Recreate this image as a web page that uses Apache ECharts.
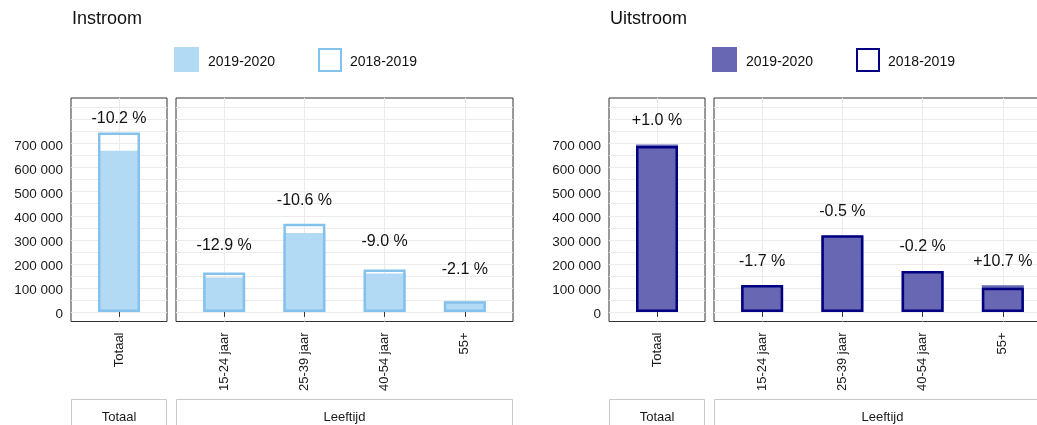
<!DOCTYPE html>
<html>
<head>
<meta charset="utf-8">
<script src="https://cdn.jsdelivr.net/npm/echarts@6/dist/echarts.min.js"></script>
<style>
html, body { margin: 0; padding: 0; background: #fff; }
#main { width: 1037px; height: 425px; }
</style>
</head>
<body>
<div id="main"></div>
<script>
// categorieën
var totaalCats = ['Totaal'];
var leeftijdCats = ['15-24 jaar', '25-39 jaar', '40-54 jaar', '55+'];

// instroom
var inTotaal2020 = [670000];
var inTotaal2019 = [746000];
var inTotaalPct = ['-10.2 %'];
var inLeeftijd2020 = [142900, 328000, 160000, 43000];
var inLeeftijd2019 = [164000, 367000, 176000, 44000];
var inLeeftijdPct = ['-12.9 %', '-10.6 %', '-9.0 %', '-2.1 %'];

// uitstroom
var uitTotaal2020 = [697000];
var uitTotaal2019 = [690000];
var uitTotaalPct = ['+1.0 %'];
var uitLeeftijd2020 = [110000, 317000, 170000, 111000];
var uitLeeftijd2019 = [112000, 318500, 170300, 100000];
var uitLeeftijdPct = ['-1.7 %', '-0.5 %', '-0.2 %', '+10.7 %'];

// as-labels en rasterlijnen
var yLabelTicks = [0, 100000, 200000, 300000, 400000, 500000, 600000, 700000];
var yGridTicks = [0, 50000, 100000, 150000, 200000, 250000, 300000, 350000, 400000,
  450000, 500000, 550000, 600000, 650000, 700000, 750000, 800000, 850000];

var font = '"Liberation Sans", Arial, sans-serif';
var shift = 538; // afstand tussen de twee blokken

var blocks = [
  { title: 'Instroom', x: 0, fill: '#b3daf4', line: '#85c1ed', labelGap: 24 },
  { title: 'Uitstroom', x: shift, fill: '#6767b3', line: '#000080', labelGap: 16 }
];

var panels = [
  { block: 0, left: 71, width: 96, strip: 'Totaal', cats: totaalCats, v20: inTotaal2020, v19: inTotaal2019, pct: inTotaalPct, yLabels: true },
  { block: 0, left: 176, width: 337, strip: 'Leeftijd', cats: leeftijdCats, v20: inLeeftijd2020, v19: inLeeftijd2019, pct: inLeeftijdPct, yLabels: false },
  { block: 1, left: 71 + shift, width: 96, strip: 'Totaal', cats: totaalCats, v20: uitTotaal2020, v19: uitTotaal2019, pct: uitTotaalPct, yLabels: true },
  { block: 1, left: 176 + shift, width: 337, strip: 'Leeftijd', cats: leeftijdCats, v20: uitLeeftijd2020, v19: uitLeeftijd2019, pct: uitLeeftijdPct, yLabels: false }
];

function fmtNum(v) {
  return '{v|' + String(v).replace(/\B(?=(\d{3})+(?!\d))/g, ' ') + '}';
}

var grids = [], xAxes = [], yAxes = [], series = [], graphics = [];
var gridTop = 98, gridHeight = 223.5;

panels.forEach(function (p, i) {
  var b = blocks[p.block];
  var pos = p.cats.map(function (c, k) { return k + 1; });
  grids.push({
    left: p.left, top: gridTop, width: p.width, height: gridHeight,
    outerBoundsMode: 'none', containLabel: false,
    show: true, borderColor: '#333', borderWidth: 1, backgroundColor: 'transparent'
  });
  xAxes.push({
    type: 'value', gridIndex: i, min: 0.4, max: p.cats.length + 0.6,
    axisLine: { show: false },
    axisTick: { show: true, customValues: pos, length: 5, lineStyle: { color: '#333' } },
    axisLabel: {
      customValues: pos, rotate: 90, margin: 11, fontSize: 13, color: '#1a1a1a', fontFamily: font,
      formatter: function (v) { return p.cats[Math.round(v) - 1]; }
    },
    splitLine: { show: true, lineStyle: { color: '#ebebeb', width: 1 } }
  });
  yAxes.push({
    type: 'value', gridIndex: i, min: -40000, max: 890000,
    axisLine: { show: false },
    axisTick: { show: false, customValues: yGridTicks },
    axisLabel: {
      show: p.yLabels, customValues: yLabelTicks, margin: 8,
      formatter: fmtNum,
      rich: { v: { fontSize: 13.5, color: '#1a1a1a', fontFamily: font, padding: [5, 0, 0, 0] } }
    },
    splitLine: { show: true, lineStyle: { color: '#ebebeb', width: 1 } }
  });
  series.push({
    type: 'bar', name: b.title + ' 2019-2020', xAxisIndex: i, yAxisIndex: i,
    data: p.v20.map(function (v, k) { return [k + 1, v]; }),
    barWidth: 42, barGap: '-100%',
    itemStyle: { color: b.fill },
    label: {
      show: true, position: 'top', distance: b.labelGap, fontSize: 16, color: '#111', fontFamily: font,
      formatter: function (d) { return p.pct[d.dataIndex]; }
    }
  });
  series.push({
    type: 'bar', name: b.title + ' 2018-2019', xAxisIndex: i, yAxisIndex: i,
    data: p.v19.map(function (v, k) { return [k + 1, v]; }),
    barWidth: 42, barGap: '-100%',
    itemStyle: { color: 'rgba(0,0,0,0)', borderColor: b.line, borderWidth: 2.5 }
  });
  // facet-strip onderaan
  graphics.push({
    type: 'rect', shape: { x: p.left + 0.5, y: 399.5, width: p.width - 1, height: 40 },
    style: { fill: '#fff', stroke: '#c8c8c8', lineWidth: 1 }
  });
  graphics.push({
    type: 'text', x: p.left + p.width / 2, y: 417,
    style: { text: p.strip, align: 'center', verticalAlign: 'middle', fontSize: 13, fontFamily: font, fill: '#1a1a1a' }
  });
});

var titles = blocks.map(function (b) {
  return { text: b.title, left: 72 + b.x, top: 10, padding: 0,
    textStyle: { fontSize: 18, fontWeight: 'normal', color: '#111', fontFamily: font } };
});

var legendText = { t: { fontSize: 14, color: '#111', fontFamily: font, padding: [5, 0, 0, 4] } };
var legends = [];
blocks.forEach(function (b) {
  legends.push({
    data: [b.title + ' 2019-2020'], left: 174 + b.x, top: 47, padding: 0,
    icon: 'rect', itemWidth: 25, itemHeight: 25, selectedMode: false,
    formatter: function (n) { return '{t|' + n.split(' ')[1] + '}'; },
    textStyle: { rich: legendText }
  });
  legends.push({
    data: [b.title + ' 2018-2019'], left: 318 + b.x, top: 48, padding: 0,
    icon: 'rect', itemWidth: 22, itemHeight: 22, selectedMode: false,
    formatter: function (n) { return '{t|' + n.split(' ')[1] + '}'; },
    textStyle: { rich: legendText }
  });
});

var myChart = echarts.init(document.getElementById('main'));
myChart.setOption({
  animation: false,
  title: titles,
  legend: legends,
  grid: grids,
  xAxis: xAxes,
  yAxis: yAxes,
  series: series,
  graphic: graphics
});
</script>
</body>
</html>
